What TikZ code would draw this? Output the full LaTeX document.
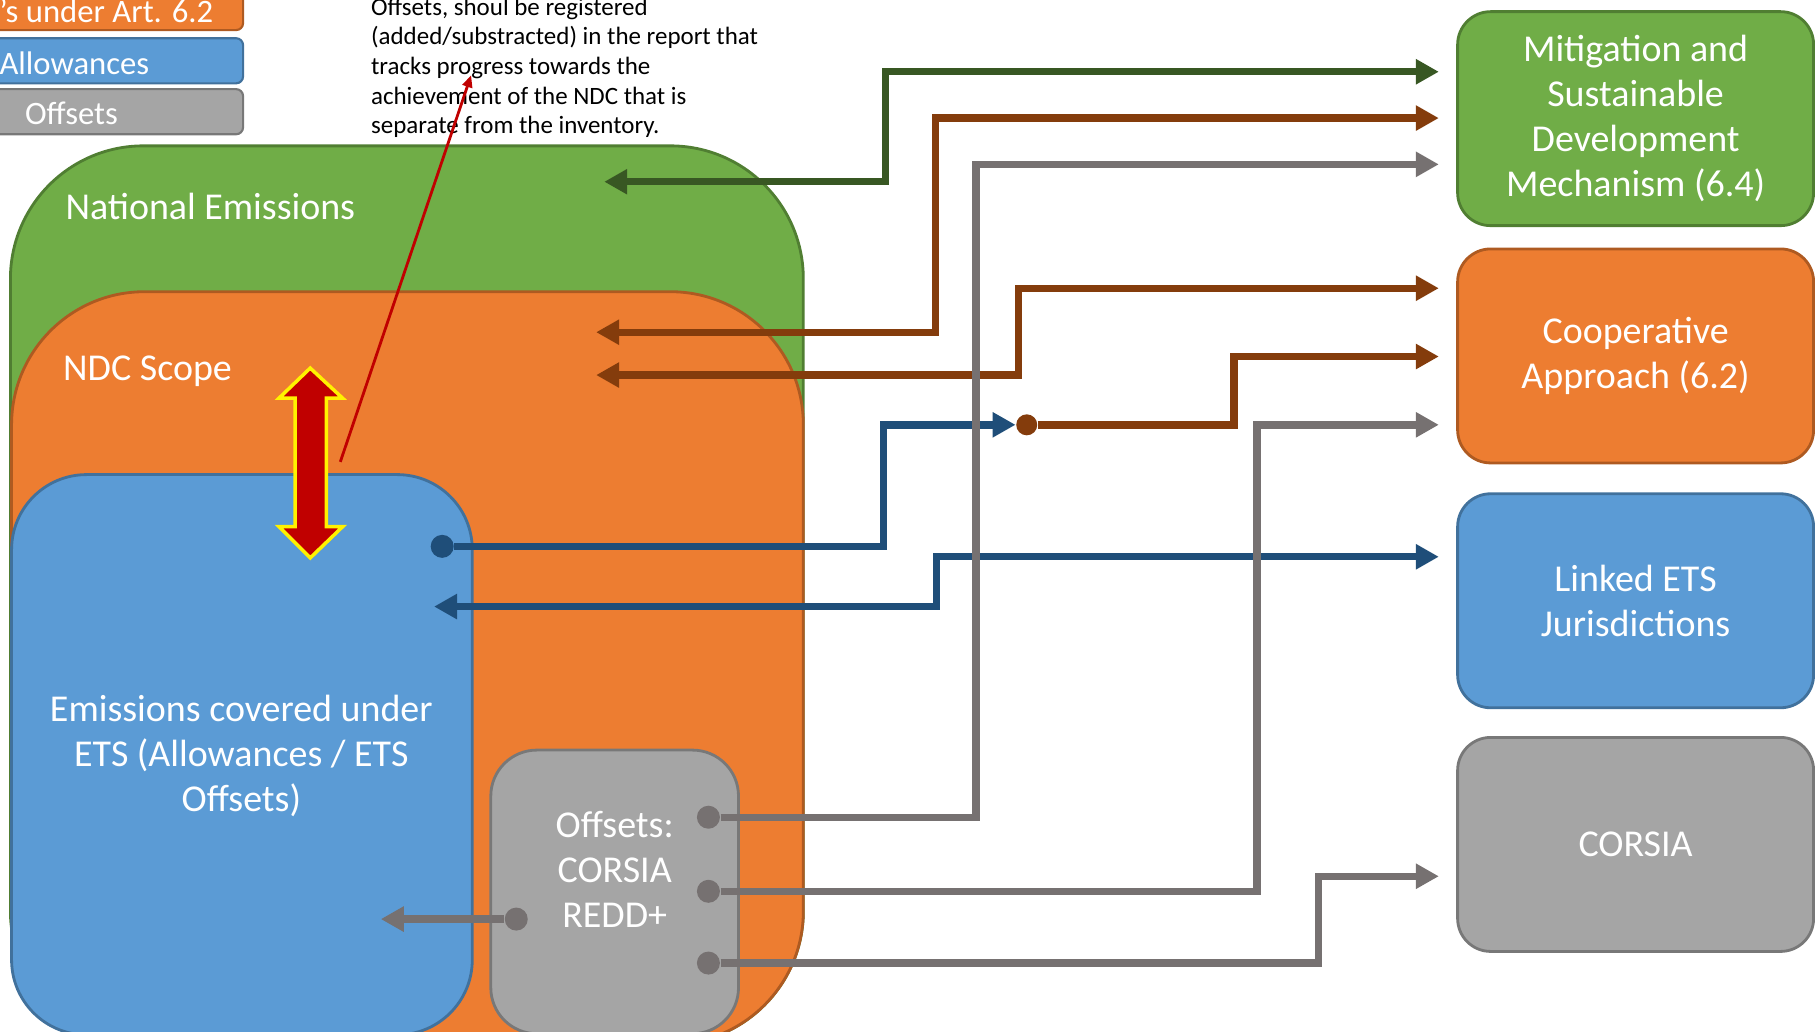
\documentclass[tikz,border=0pt]{standalone}
\usepackage{fontspec}
\setmainfont{Carlito}
\usetikzlibrary{arrows.meta}
\definecolor{natgreen}{HTML}{70AD47}
\definecolor{natgreenline}{HTML}{507E32}
\definecolor{ndcorange}{HTML}{ED7D31}
\definecolor{ndcorangeline}{HTML}{AE5A21}
\definecolor{etsblue}{HTML}{5B9BD5}
\definecolor{etsblueline}{HTML}{41719C}
\definecolor{offgrey}{HTML}{A5A5A5}
\definecolor{offgreyline}{HTML}{787878}
\definecolor{flowgreen}{HTML}{385723}
\definecolor{flowbrown}{HTML}{843C0C}
\definecolor{flowblue}{HTML}{1F4E79}
\definecolor{flowgrey}{HTML}{767171}
\definecolor{darkred}{HTML}{C00000}

\begin{document}
\begin{tikzpicture}[
x=0.11575mm, y=-0.11575mm,
BigBox/.style={line width=0.8pt, rounded corners=13.3mm},
LegendBox/.style={line width=0.6pt, rounded corners=0.7mm},
LegendText/.style={text=white, inner sep=0pt, anchor=west, font=\fontsize{9.3}{11}\selectfont},
SideBox/.style={draw, line width=0.8pt, rounded corners=3.3mm, minimum width=35.6mm, minimum height=21.4mm, align=center, text=white, font=\fontsize{10.8}{12.8}\selectfont},
BoxText/.style={text=white, inner sep=0pt, align=center, font=\fontsize{10.8}{12.8}\selectfont},
Flow/.style={line width=2.1pt},
Tip/.tip={Triangle[length=2.3mm, width=2.4mm]},
Dot/.style={circle, fill=#1, inner sep=0pt, minimum size=2.3mm}
]
\useasboundingbox (0,0) rectangle (1568,891);
\clip (0,0) rectangle (1568,891);

% legend (cut at the left edge)
\draw[LegendBox, fill=ndcorange, draw=ndcorangeline] (-40,-20) rectangle (210,26);
\draw[LegendBox, fill=etsblue, draw=etsblueline] (-40,33) rectangle (210,72);
\draw[LegendBox, fill=offgrey, draw=offgreyline] (-40,77) rectangle (210,116);
\node[LegendText] (LegA) at (-1,10) {’s under Art. 6.2};
\node[LegendText] (LegB) at (-1,55) {Allowances};
\node[LegendText] (LegC) at (21,98) {Offsets};

% note
\node[anchor=north west, inner sep=0pt, align=left, font=\fontsize{7.1}{8.45}\selectfont] (Note) at (320,-2.5)
{Offsets, shoul be registered\\(added/substracted) in the report that\\tracks progress towards the\\achievement of the NDC that is\\separate from the inventory.};

% nested scopes
\draw[BigBox, fill=natgreen, draw=natgreenline] (9,126) rectangle (694,902);
\draw[BigBox, fill=ndcorange, draw=ndcorangeline] (10,252) rectangle (694,902);
\draw[BigBox, rounded corners=7.5mm, fill=etsblue, draw=etsblueline] (10,410) rectangle (408,894);
\draw[BigBox, rounded corners=4.6mm, fill=offgrey, draw=offgreyline] (424,648) rectangle (638,893);

\node[BoxText, anchor=west] (NatText) at (56,178) {National Emissions};
\node[BoxText, anchor=west] (NdcText) at (54,321) {NDC Scope};
\node[BoxText] (EtsText) at (208.5,653) {Emissions covered under\\ETS (Allowances / ETS\\Offsets)};
\node[BoxText] (OffText) at (531,751) {Offsets:\\CORSIA\\REDD+};

% red double arrow
\draw[fill=darkred, draw=yellow, line width=1pt, line join=miter]
(268,318) -- (296,344) -- (282,344) -- (282,455) -- (296,455) -- (268,482)
-- (241,455) -- (255,455) -- (255,344) -- (241,344) -- cycle;

% mechanisms
\node[SideBox, fill=natgreen, draw=natgreenline] (MSDM) at (1413,102.5) {Mitigation and\\Sustainable\\Development\\Mechanism (6.4)};
\node[SideBox, fill=ndcorange, draw=ndcorangeline] (Coop) at (1413,307.5) {Cooperative\\Approach (6.2)};
\node[SideBox, fill=etsblue, draw=etsblueline] (Linked) at (1413,519) {Linked ETS\\Jurisdictions};
\node[SideBox, fill=offgrey, draw=offgreyline] (Corsia) at (1413,729.5) {CORSIA};

% ends of the flows
\coordinate (MsdmA) at (1243,62);
\coordinate (MsdmB) at (1243,102);
\coordinate (MsdmC) at (1243,142);
\coordinate (CoopA) at (1243,249);
\coordinate (CoopB) at (1243,308);
\coordinate (CoopC) at (1243,367);
\coordinate (LinkA) at (1243,481);
\coordinate (CorsA) at (1243,757);
\coordinate (NatIn) at (522,157);
\coordinate (NdcInA) at (515,287);
\coordinate (NdcInB) at (515,324);
\coordinate (EtsIn) at (375,524);
\coordinate (OffTip) at (329,794);

\node[Dot=flowblue] (EtsDot) at (382,472) {};
\node[Dot=flowbrown, minimum size=2.1mm] (Hub) at (887,367) {};
\node[Dot=flowgrey] (OffR1) at (612,706) {};
\node[Dot=flowgrey] (OffR2) at (612,770) {};
\node[Dot=flowgrey] (OffR3) at (612,832) {};
\node[Dot=flowgrey] (OffL) at (446,794) {};

% flows
\draw[Flow, flowgreen, Tip-Tip] (NatIn) -| (765,62) -- (MsdmA);
\draw[Flow, flowbrown, Tip-Tip] (NdcInA) -| (808,102) -- (MsdmB);
\draw[Flow, flowbrown, Tip-Tip] (NdcInB) -| (880,249) -- (CoopA);
\draw[Flow, flowbrown, -Tip] (Hub) -| (1066,308) -- (CoopB);
\draw[Flow, flowblue, -Tip] (EtsDot) -| (763,367) -- (Hub);
\draw[Flow, flowblue, Tip-Tip] (EtsIn) -| (809,481) -- (LinkA);
\draw[Flow, flowgrey, -Tip] (OffR1) -| (843,142) -- (MsdmC);
\draw[Flow, flowgrey, -Tip] (OffR2) -| (1086,367) -- (CoopC);
\draw[Flow, flowgrey, -Tip] (OffR3) -| (1139,757) -- (CorsA);
\draw[Flow, flowgrey, -Tip] (OffL) -- (OffTip);

% pointer to the note
\coordinate (RedFoot) at (294,399);
\coordinate (NoteTip) at (407,65);
\draw[darkred, line width=0.8pt, -{Triangle[length=1.2mm, width=1mm]}] (RedFoot) -- (NoteTip);

\end{tikzpicture}
\end{document}
